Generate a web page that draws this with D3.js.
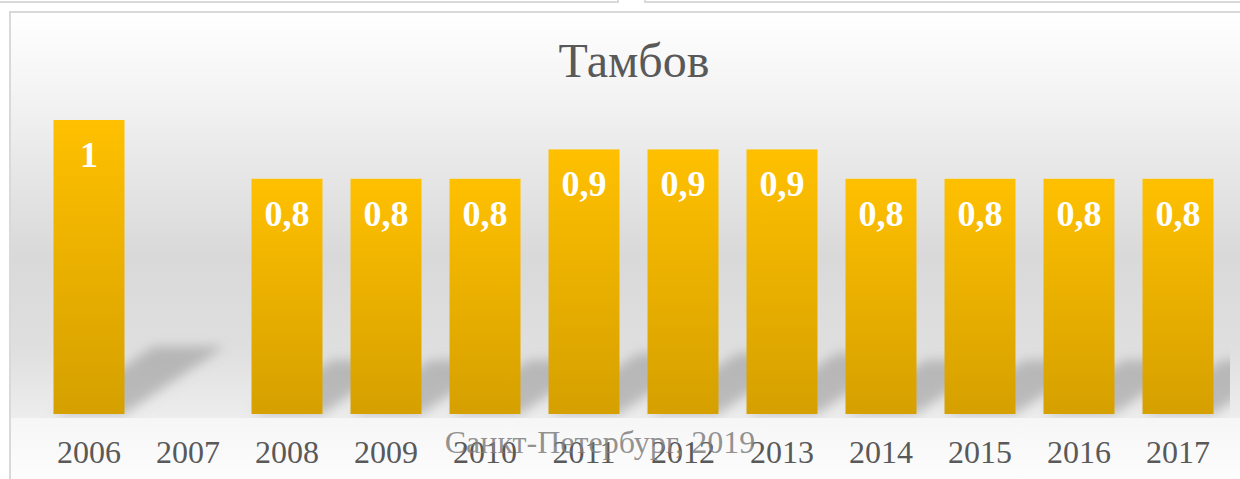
<!DOCTYPE html>
<html lang="ru">
<head>
<meta charset="utf-8">
<title>Тамбов</title>
<script src="https://cdn.jsdelivr.net/npm/d3@7"></script>
<style>
  html, body { margin: 0; padding: 0; background: #fff; }
  svg { display: block; font-family: "Liberation Serif", "Times New Roman", serif; }
</style>
</head>
<body>
<div id="chart"></div>
<script>
const title = "Тамбов";
const watermark = "Санкт-Петербург, 2019";
const years = ["2006", "2007", "2008", "2009", "2010", "2011", "2012", "2013", "2014", "2015", "2016", "2017"];
const values = [1, null, 0.8, 0.8, 0.8, 0.9, 0.9, 0.9, 0.8, 0.8, 0.8, 0.8];

const width = 1240;
const height = 479;
const margin = { top: 120, right: 12.5, bottom: 65, left: 39.5 };

const svg = d3.select("#chart").append("svg")
  .attr("width", width)
  .attr("height", height)
  .attr("viewBox", [0, 0, width, height]);

const defs = svg.append("defs");

// background of the chart box: white at top, gray band, light floor
const bgGrad = defs.append("linearGradient")
  .attr("id", "bg-grad")
  .attr("x1", 0).attr("y1", 0).attr("x2", 0).attr("y2", 1);
[[0, "#ffffff"], [0.19, "#f4f4f4"], [0.6, "#d9d9d9"], [0.83, "#dfdfdf"], [1, "#ededed"]]
  .forEach(([o, c]) => bgGrad.append("stop").attr("offset", o).attr("stop-color", c));

const floorGrad = defs.append("linearGradient")
  .attr("id", "floor-grad")
  .attr("x1", 0).attr("y1", 0).attr("x2", 0).attr("y2", 1);
[[0, "#f6f6f6"], [1, "#fdfdfd"]]
  .forEach(([o, c]) => floorGrad.append("stop").attr("offset", o).attr("stop-color", c));

const barGrad = defs.append("linearGradient")
  .attr("id", "bar-grad")
  .attr("x1", 0).attr("y1", 0).attr("x2", 0).attr("y2", 1);
[[0, "#ffc000"], [1, "#d5a000"]]
  .forEach(([o, c]) => barGrad.append("stop").attr("offset", o).attr("stop-color", c));

defs.append("filter")
  .attr("id", "shadow-blur")
  .attr("x", "-30%").attr("y", "-30%").attr("width", "160%").attr("height", "160%")
  .append("feGaussianBlur")
  .attr("stdDeviation", 6);

const x = d3.scaleBand()
  .domain(years)
  .range([margin.left, width - margin.right])
  .paddingInner(0.283)
  .paddingOuter(0.1415);

const y = d3.scaleLinear()
  .domain([0, 1])
  .range([height - margin.bottom, margin.top]);

const base = y(0);

defs.append("clipPath")
  .attr("id", "plot-clip")
  .append("rect")
  .attr("x", 10).attr("y", 12)
  .attr("width", x.range()[1] + 2.5 - 10)
  .attr("height", base + 4 - 12);

// neighbouring boxes peeking in at the top
svg.append("path")
  .attr("d", "M0,2H618V-2 M645,-2V2H1242")
  .attr("fill", "none")
  .attr("stroke", "#d9d9d9")
  .attr("stroke-width", 2);

// chart box
svg.append("rect")
  .attr("x", 10).attr("y", 12)
  .attr("width", width + 10).attr("height", base + 4 - 12)
  .attr("fill", "url(#bg-grad)");

svg.append("rect")
  .attr("x", 10).attr("y", base + 4)
  .attr("width", width + 10).attr("height", height - base)
  .attr("fill", "url(#floor-grad)");

svg.append("rect")
  .attr("x", 10).attr("y", 12)
  .attr("width", width + 10).attr("height", height + 10)
  .attr("fill", "none")
  .attr("stroke", "#d9d9d9")
  .attr("stroke-width", 2);

svg.append("text")
  .attr("x", 634)
  .attr("y", 77)
  .attr("text-anchor", "middle")
  .attr("font-size", 48)
  .attr("fill", "#595959")
  .text(title);

const data = years.map((year, i) => ({ year, value: values[i] }))
  .filter((d) => d.value !== null);

// perspective shadows cast to the upper right
const shadowLift = 0.23;
const shadowSkew = 0.34;
svg.append("g")
  .attr("clip-path", "url(#plot-clip)")
  .append("g")
  .attr("filter", "url(#shadow-blur)")
  .selectAll("path")
  .data(data)
  .join("path")
  .attr("d", (d) => {
    const h = base - y(d.value);
    const x0 = x(d.year);
    const x1 = x0 + x.bandwidth();
    const dx = shadowSkew * h;
    const top = base - shadowLift * h;
    return `M${x0},${base}L${x1},${base}L${x1 + dx},${top}L${x0 + dx},${top}Z`;
  })
  .attr("fill", "#8c8c8c")
  .attr("fill-opacity", 0.5);

svg.append("g")
  .selectAll("rect")
  .data(data)
  .join("rect")
  .attr("x", (d) => x(d.year))
  .attr("y", (d) => y(d.value))
  .attr("width", x.bandwidth())
  .attr("height", (d) => base - y(d.value))
  .attr("fill", "url(#bar-grad)");

svg.append("g")
  .selectAll("text")
  .data(data)
  .join("text")
  .attr("x", (d) => x(d.year) + x.bandwidth() / 2)
  .attr("y", (d) => y(d.value) + 47)
  .attr("text-anchor", "middle")
  .attr("font-size", 36)
  .attr("font-weight", "bold")
  .attr("fill", "#ffffff")
  .text((d) => String(d.value).replace(".", ","));

svg.append("g")
  .attr("transform", `translate(0,${base})`)
  .call(d3.axisBottom(x).tickSize(0).tickPadding(26))
  .call((g) => g.select(".domain").remove())
  .call((g) => g.selectAll("text")
    .attr("font-family", "Liberation Serif, Times New Roman, serif")
    .attr("font-size", 32)
    .attr("fill", "#595959"));

// source note, sits over the year labels as in the original
svg.append("text")
  .attr("x", 600)
  .attr("y", 453)
  .attr("text-anchor", "middle")
  .attr("font-size", 32)
  .attr("fill", "#7f7f7f")
  .attr("fill-opacity", 0.85)
  .text(watermark);
</script>
</body>
</html>
